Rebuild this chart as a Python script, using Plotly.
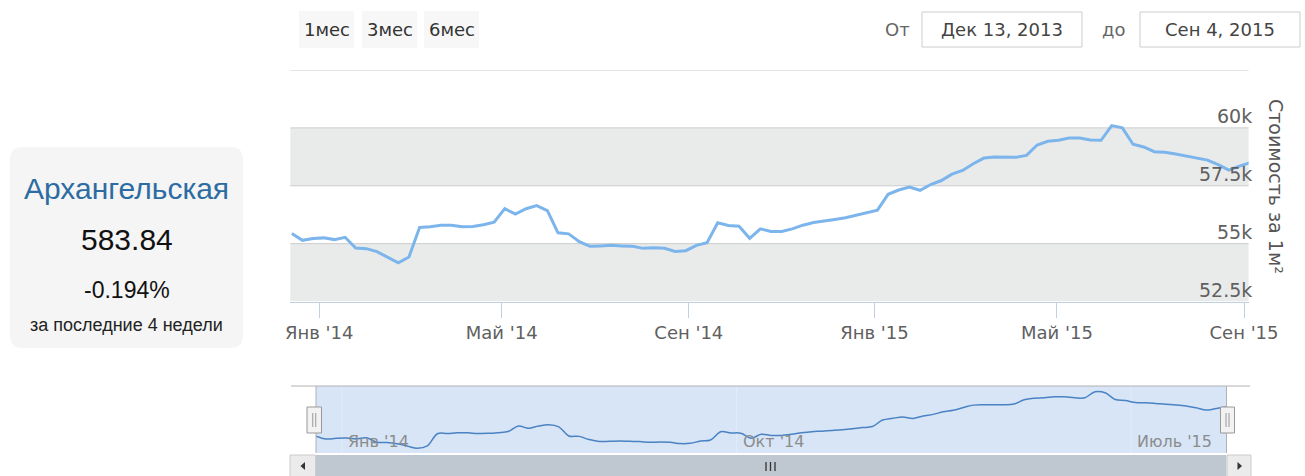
import plotly.graph_objects as go
import pandas as pd

# ---------------- data ----------------
dates = pd.date_range('2013-12-14', periods=91, freq='7D')
values = [55435, 55143, 55217, 55248, 55174, 55274, 54813, 54783, 54652, 54422,
          54174, 54422, 55696, 55726, 55796, 55796, 55726, 55739, 55813, 55926,
          56509, 56274, 56509, 56639, 56422, 55465, 55422, 55087, 54883, 54900,
          54926, 54900, 54883, 54796, 54826, 54796, 54665, 54696, 54926, 55043,
          55900, 55783, 55752, 55230, 55639, 55522, 55522, 55639, 55796, 55913,
          55970, 56043, 56117, 56230, 56348, 56448, 57130, 57317, 57448, 57304,
          57552, 57726, 58000, 58161, 58448, 58696, 58739, 58739, 58726, 58813,
          59261, 59422, 59465, 59565, 59565, 59478, 59465, 60100, 60000, 59291,
          59174, 58970, 58943, 58870, 58783, 58717, 58609, 58413, 58174, 58348,
          58500]

x_tick_dates = ['2014-01-01', '2014-05-01', '2014-09-01', '2015-01-01', '2015-05-01', '2015-09-01']
x_tick_labels = ["Янв '14", "Май '14", "Сен '14", "Янв '15", "Май '15", "Сен '15"]
y_tick_vals = [52500, 55000, 57500, 60000]
y_tick_labels = ['52.5k', '55k', '57.5k', '60k']
grid_vals = [55000, 57500, 60000, 62500]
bands = [(52500, 55000), (57500, 60000)]
nav_tick_dates = ['2014-01-01', '2014-10-01', '2015-07-01']
nav_tick_labels = ["Янв '14", "Окт '14", "Июль '15"]
buttons = ['1мес', '3мес', '6мес']
date_from = 'Дек 13, 2013'
date_to = 'Сен 4, 2015'
region = 'Архангельская'
price = '583.84'
change = '-0.194%'
period = 'за последние 4 недели'

# ---------------- geometry helpers ----------------
W, H = 1305, 476
def px(x):
    return x / W
def py(y):
    return 1 - y / H

FONT = 'DejaVu Sans'
ARIAL = 'Liberation Sans, Arial'

fig = go.Figure()

fig.add_trace(go.Scatter(x=dates, y=values, mode='lines', xaxis='x', yaxis='y',
                         line=dict(color='#7cb5ec', width=3), hoverinfo='skip',
                         showlegend=False))
fig.add_trace(go.Scatter(x=dates, y=values, mode='lines', xaxis='x2', yaxis='y2',
                         line=dict(color='#4a82c3', width=1.5, shape='spline'),
                         hoverinfo='skip', showlegend=False))

shapes = []
annotations = []

# main plot bands and grid
for lo, hi in bands:
    shapes.append(dict(type='rect', xref='paper', yref='y', x0=px(290.3), x1=px(1248.6),
                       y0=lo, y1=hi, fillcolor='#e9ebeb', line=dict(width=0), layer='below'))
for g in grid_vals:
    shapes.append(dict(type='line', xref='paper', yref='y', x0=px(290.3), x1=px(1248.6),
                       y0=g, y1=g, line=dict(color='#cccccc', width=1), layer='below'))
for v, t in zip(y_tick_vals, y_tick_labels):
    annotations.append(dict(xref='paper', yref='y', x=px(1254), y=v, text=t, showarrow=False,
                            xanchor='right', yanchor='bottom', yshift=-1,
                            font=dict(family=FONT, size=19, color='#606060')))
annotations.append(dict(xref='paper', yref='paper', x=px(1289), y=py(186),
                        text='Стоимость за 1м²', showarrow=False, textangle=90,
                        font=dict(family=FONT, size=19, color='#555555')))

# left card
x0, x1, y0, y1, r = 10, 243, 147, 348, 13
path = (f"M {px(x0+r)},{py(y0)} L {px(x1-r)},{py(y0)} Q {px(x1)},{py(y0)} {px(x1)},{py(y0+r)} "
        f"L {px(x1)},{py(y1-r)} Q {px(x1)},{py(y1)} {px(x1-r)},{py(y1)} "
        f"L {px(x0+r)},{py(y1)} Q {px(x0)},{py(y1)} {px(x0)},{py(y1-r)} "
        f"L {px(x0)},{py(y0+r)} Q {px(x0)},{py(y0)} {px(x0+r)},{py(y0)} Z")
shapes.append(dict(type='path', xref='paper', yref='paper', path=path,
                   fillcolor='#f5f5f5', line=dict(width=0), layer='below'))
for txt, yy, sz, col in [(region, 189, 30, '#2d6ca2'), (price, 239, 30, '#111111'),
                         (change, 290, 23, '#111111'), (period, 325, 18, '#222222')]:
    annotations.append(dict(xref='paper', yref='paper', x=px(126.5), y=py(yy), text=txt,
                            showarrow=False, xanchor='center', yanchor='middle',
                            font=dict(family=ARIAL, size=sz, color=col)))

# range buttons
for (bx0, bx1), t in zip([(299, 354), (362, 417), (424, 479)], buttons):
    shapes.append(dict(type='rect', xref='paper', yref='paper', x0=px(bx0), x1=px(bx1),
                       y0=py(48), y1=py(11), fillcolor='#f7f7f7', line=dict(width=0), layer='below'))
    annotations.append(dict(xref='paper', yref='paper', x=px((bx0 + bx1) / 2), y=py(29.5), text=t,
                            showarrow=False, xanchor='center', yanchor='middle',
                            font=dict(family=FONT, size=18, color='#333333')))

# date inputs
for (bx0, bx1), t in zip([(922, 1082), (1140, 1300)], [date_from, date_to]):
    shapes.append(dict(type='rect', xref='paper', yref='paper', x0=px(bx0), x1=px(bx1),
                       y0=py(47), y1=py(12), fillcolor='#ffffff', line=dict(color='#cccccc', width=1),
                       layer='below'))
    annotations.append(dict(xref='paper', yref='paper', x=px((bx0 + bx1) / 2), y=py(29.5), text=t,
                            showarrow=False, xanchor='center', yanchor='middle',
                            font=dict(family=FONT, size=18, color='#444444')))
for xx, t in [(897, 'От'), (1113.5, 'до')]:
    annotations.append(dict(xref='paper', yref='paper', x=px(xx), y=py(29.5), text=t,
                            showarrow=False, xanchor='center', yanchor='middle',
                            font=dict(family=FONT, size=18, color='#666666')))

# navigator
shapes.append(dict(type='rect', xref='paper', yref='paper', x0=px(316), x1=px(1226.5),
                   y0=py(453), y1=py(386), fillcolor='#d7e5f6', line=dict(width=0), layer='below'))
for d in nav_tick_dates:
    shapes.append(dict(type='line', xref='x2', yref='paper', x0=d, x1=d, y0=py(453), y1=py(386),
                       line=dict(color='#e3ecf7', width=1), layer='below'))
for d, t in zip(nav_tick_dates, nav_tick_labels):
    annotations.append(dict(xref='x2', yref='paper', x=d, y=py(441), text=t, showarrow=False,
                            xanchor='left', yanchor='middle', xshift=4,
                            font=dict(family=FONT, size=16, color='#8c8c8c')))
shapes.append(dict(type='line', xref='paper', yref='paper', x0=px(291), x1=px(1250),
                   y0=py(386), y1=py(386), line=dict(color='#b2b1b6', width=1)))
for xx in (316, 1226.5):
    shapes.append(dict(type='line', xref='paper', yref='paper', x0=px(xx), x1=px(xx),
                       y0=py(453), y1=py(386), line=dict(color='#b2b1b6', width=1)))
# handles
for hx0, hx1 in [(307, 321.5), (1220.5, 1234.5)]:
    shapes.append(dict(type='rect', xref='paper', yref='paper', x0=px(hx0), x1=px(hx1),
                       y0=py(433), y1=py(407), fillcolor='#f2f2f2', line=dict(color='#999999', width=1)))
    cx = (hx0 + hx1) / 2
    for dx in (-1.5, 1.5):
        shapes.append(dict(type='line', xref='paper', yref='paper', x0=px(cx + dx), x1=px(cx + dx),
                           y0=py(427), y1=py(413), line=dict(color='#999999', width=1)))
# scrollbar
shapes.append(dict(type='rect', xref='paper', yref='paper', x0=px(316), x1=px(1226.5),
                   y0=py(480), y1=py(455), fillcolor='#bfc7d0', line=dict(width=0)))
for bx0, bx1 in [(290, 315.5), (1227, 1251)]:
    shapes.append(dict(type='rect', xref='paper', yref='paper', x0=px(bx0), x1=px(bx1),
                       y0=py(480), y1=py(455), fillcolor='#ebebeb', line=dict(color='#cccccc', width=1)))
shapes.append(dict(type='path', xref='paper', yref='paper',
                   path=f"M {px(300.5)},{py(466)} L {px(305)},{py(462)} L {px(305)},{py(470)} Z",
                   fillcolor='#333333', line=dict(width=0)))
shapes.append(dict(type='path', xref='paper', yref='paper',
                   path=f"M {px(1242)},{py(466)} L {px(1237.5)},{py(462)} L {px(1237.5)},{py(470)} Z",
                   fillcolor='#333333', line=dict(width=0)))
for gx in (766, 770.5, 775):
    shapes.append(dict(type='line', xref='paper', yref='paper', x0=px(gx), x1=px(gx),
                       y0=py(471), y1=py(462), line=dict(color='#333333', width=1.3)))

fig.update_layout(
    width=W, height=H,
    margin=dict(l=0, r=0, t=0, b=0, autoexpand=False),
    paper_bgcolor='#ffffff', plot_bgcolor='rgba(0,0,0,0)',
    showlegend=False,
    xaxis=dict(domain=[px(290.3), px(1248.6)], type='date', range=['2013-12-13', '2015-09-04'],
               tickmode='array', tickvals=x_tick_dates, ticktext=x_tick_labels,
               ticks='outside', ticklen=15, tickwidth=1, tickcolor='#c0d0e0',
               showline=True, linecolor='#c0d0e0', linewidth=1,
               showgrid=False, zeroline=False, anchor='y', automargin=False,
               tickfont=dict(family=FONT, size=18, color='#606060')),
    yaxis=dict(domain=[py(301.5), py(70)], range=[52500, 62500], visible=False, anchor='x',
               automargin=False),
    xaxis2=dict(domain=[px(316), px(1226.5)], type='date', range=['2013-12-14', '2015-09-05'],
                visible=False, anchor='y2', automargin=False),
    yaxis2=dict(domain=[py(453), py(386)], range=[53680, 60700], visible=False, anchor='x2',
                automargin=False),
    shapes=shapes,
    annotations=annotations,
)

fig.write_html("out.html", config={'displayModeBar': False},
               post_script="document.body.style.margin='0';document.body.style.overflow='hidden';")
